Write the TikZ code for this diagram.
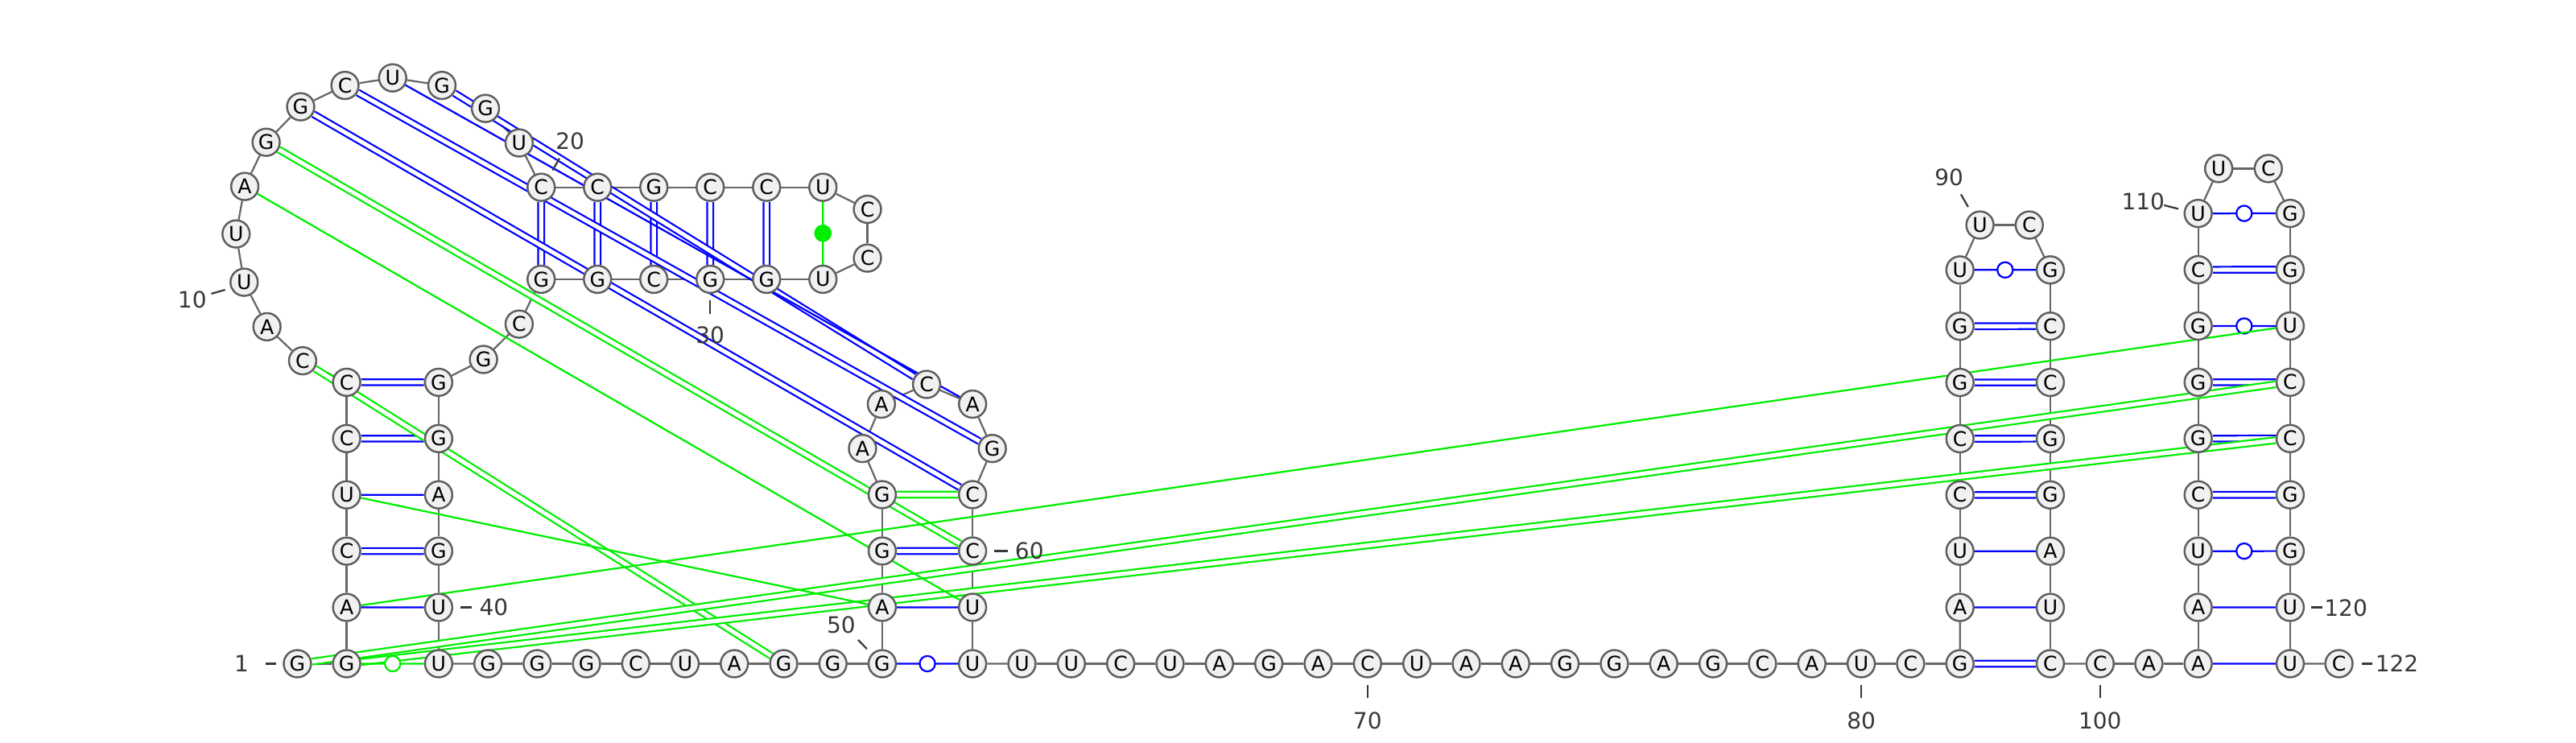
\documentclass[tikz,border=0pt]{standalone}
\usepackage{fontspec}
\usepackage{xcolor}
\usepackage{tikz}
\usetikzlibrary{backgrounds,calc}
\newfontfamily\ntfont{DejaVu Sans}
\definecolor{ntfill}{HTML}{F1F1F1}
\definecolor{ntedge}{HTML}{5E5E5E}
\definecolor{bbgray}{HTML}{666666}
\definecolor{lblgray}{HTML}{383838}
\definecolor{pairblue}{RGB}{0,0,255}
\definecolor{pairgreen}{RGB}{0,238,0}

\begin{document}
\begin{tikzpicture}[x=0.5mm, y=-0.5mm, nt/.style={circle, draw=ntedge, fill=ntfill, line width=0.6mm, minimum size=8.3mm, inner sep=0pt, font=\ntfont\fontsize{17.5}{18}\selectfont}, lbl/.style={text=lblgray, inner sep=0pt, font=\ntfont\fontsize{19.5}{20}\selectfont}, bb/.style={draw=bbgray, line width=0.55mm}, tick/.style={draw=lblgray, line width=0.55mm}, spair/.style={draw=#1, line width=0.55mm}, dpair/.style={draw=#1, double=white, double distance=1.25mm, line width=0.55mm}, wob/.style={circle, draw=#1, fill=white, line width=0.55mm, minimum size=4.7mm, inner sep=0pt}, gdot/.style={circle, fill=pairgreen, minimum size=5.3mm, inner sep=0pt}]
\useasboundingbox (0,0) rectangle (1568,452);
% 5' end and first stem
\node[nt] (n1) at (181,404) {G};
\foreach \b [count=\i from 2] in {G,A,C,U,C,C} \node[nt] (n\i) at (211,{404-(\i-2)*34.26}) {\b};
% big loop
\node[nt] (n8) at (184.2,219.6) {C};
\node[nt] (n9) at (162.5,198.9) {A};
\node[nt] (n10) at (148.6,171.8) {U};
\node[nt] (n11) at (143.7,142.4) {U};
\node[nt] (n12) at (149,113.5) {A};
\node[nt] (n13) at (162,86.6) {G};
\node[nt] (n14) at (183,65) {G};
\node[nt] (n15) at (210,52) {C};
\node[nt] (n16) at (239,47.4) {U};
\node[nt] (n17) at (269,52) {G};
\node[nt] (n18) at (295.5,66) {G};
\node[nt] (n19) at (316,87) {U};
% inner hairpin
\foreach \b [count=\i from 20] in {C,C,G,C,C,U} \node[nt] (n\i) at ({329.4+(\i-20)*34.3},114) {\b};
\node[nt] (n26) at (528,127.4) {C};
\node[nt] (n27) at (528,157.1) {C};
\foreach \b [count=\i from 28] in {U,G,G,C,G,G} \node[nt] (n\i) at ({500.9-(\i-28)*34.3},170) {\b};
\node[nt] (n34) at (316,197.3) {C};
\node[nt] (n35) at (294.3,218.8) {G};
\foreach \b [count=\i from 36] in {G,G,A,G,U,U} \node[nt] (n\i) at (267,{232.7+(\i-36)*34.26}) {\b};
\foreach \b [count=\i from 42] in {G,G,G,C,U,A,G,G,G} \node[nt] (n\i) at ({297+(\i-42)*30},404) {\b};
% second stem
\foreach \b [count=\i from 51] in {A,G,G} \node[nt] (n\i) at (537,{404-(\i-50)*34.3}) {\b};
\node[nt] (n54) at (525,273) {A};
\node[nt] (n55) at (536.5,246) {A};
\node[nt] (n56) at (564,234) {C};
\node[nt] (n57) at (592,246) {A};
\node[nt] (n58) at (604,273) {G};
\foreach \b [count=\i from 59] in {C,C,U,U} \node[nt] (n\i) at (592,{301.1+(\i-59)*34.3}) {\b};
\foreach \b [count=\i from 63] in {U,U,C,U,A,G,A,C,U,A,A,G,G,A,G,C,A,U,C,G} \node[nt] (n\i) at ({592+(\i-62)*30.05},404) {\b};
% third stem
\foreach \b [count=\i from 83] in {A,U,C,C,G,G,U} \node[nt] (n\i) at (1193,{404-(\i-82)*34.24}) {\b};
\node[nt] (n90) at (1205.2,137) {U};
\node[nt] (n91) at (1235.2,137) {C};
\foreach \b [count=\i from 92] in {G,C,C,G,G,A,U,C} \node[nt] (n\i) at (1248,{164.3+(\i-92)*34.24}) {\b};
\node[nt] (n100) at (1278.3,404) {C};
\node[nt] (n101) at (1308,404) {A};
% fourth stem
\foreach \b [count=\i from 102] in {A,A,U,C,G,G,G,C,U} \node[nt] (n\i) at (1338,{404-(\i-102)*34.26}) {\b};
\node[nt] (n111) at (1350.5,102.6) {U};
\node[nt] (n112) at (1380.7,102.6) {C};
\foreach \b [count=\i from 113] in {G,G,U,C,C,G,G,U,U} \node[nt] (n\i) at (1394,{129.9+(\i-113)*34.26}) {\b};
\node[nt] (n122) at (1423.7,404) {C};
% numbering
\node[lbl] (l1) at (147,404) {1};
\node[lbl] (l10) at (117,182.5) {10};
\node[lbl] (l20) at (347,85.8) {20};
\node[lbl] (l30) at (432.3,204) {30};
\node[lbl] (l40) at (300.6,369.5) {40};
\node[lbl] (l50) at (512,380.5) {50};
\node[lbl] (l60) at (626.6,335.2) {60};
\node[lbl] (l70) at (832.4,438.5) {70};
\node[lbl] (l80) at (1132.9,438.5) {80};
\node[lbl] (l90) at (1186.3,108) {90};
\node[lbl] (l100) at (1278.3,438.5) {100};
\node[lbl] (l110) at (1304.5,122.7) {110};
\node[lbl] (l120) at (1427.9,370) {120};
\node[lbl] (l122) at (1459,404) {122};
\draw[tick] ($(n1)+(-19.3,0)$) -- ($(n1)+(-13,0)$);
\draw[tick] ($(n10)+(-20,7)$) -- ($(n10)+(-11.6,4.6)$);
\draw[tick] ($(n20)+(7,-10.3)$) -- ($(n20)+(11.1,-17.6)$);
\draw[tick] ($(n30)+(0,12.6)$) -- ($(n30)+(0,21)$);
\draw[tick] ($(n40)+(13.2,0)$) -- ($(n40)+(20,0)$);
\draw[tick] ($(n50)+(-14.7,-14.5)$) -- ($(n50)+(-9.3,-9)$);
\draw[tick] ($(n60)+(13.2,0)$) -- ($(n60)+(21.7,0)$);
\draw[tick] ($(n70)+(0,13)$) -- ($(n70)+(0,21)$);
\draw[tick] ($(n80)+(0,13)$) -- ($(n80)+(0,21)$);
\draw[tick] ($(n90)+(-11.6,-18.7)$) -- ($(n90)+(-7.2,-11)$);
\draw[tick] ($(n100)+(0,13)$) -- ($(n100)+(0,21)$);
\draw[tick] ($(n110)+(-20.8,-5)$) -- ($(n110)+(-12.1,-2.8)$);
\draw[tick] ($(n120)+(12.8,0)$) -- ($(n120)+(19.5,0)$);
\draw[tick] ($(n122)+(13.9,0)$) -- ($(n122)+(20.3,0)$);
\begin{scope}[on background layer]
% backbone
\foreach \i [evaluate=\i as \j using int(\i+1)] in {1,...,121} \draw[bb] (n\i) -- (n\j);
% canonical pairs
\foreach \a/\b in {4/39,6/37,7/36,20/33,21/32,22/31,23/30,24/29,52/60,14/59,15/58,17/56,82/99,85/96,86/95,87/94,88/93,105/118,106/117,107/116,109/114} \draw[dpair=pairblue] (n\a) -- (n\b);
\foreach \a/\b in {3/40,5/38,51/61,16/57,83/98,84/97,102/121,103/120} \draw[spair=pairblue] (n\a) -- (n\b);
\foreach \a/\b in {50/62,89/92,104/119,108/115,110/113} \draw[spair=pairblue] (n\a) -- node[wob=pairblue] {} (n\b);
% non-canonical and long range
\foreach \a/\b in {53/59,13/60,8/48,1/116,2/117} \draw[dpair=pairgreen] (n\a) -- (n\b);
\foreach \a/\b in {12/61,5/51,3/115} \draw[spair=pairgreen] (n\a) -- (n\b);
\draw[spair=pairgreen] (n2) -- node[wob=pairgreen] {} (n41);
\draw[spair=pairgreen] (n25) -- node[gdot] {} (n28);
\end{scope}
\end{tikzpicture}
\end{document}
